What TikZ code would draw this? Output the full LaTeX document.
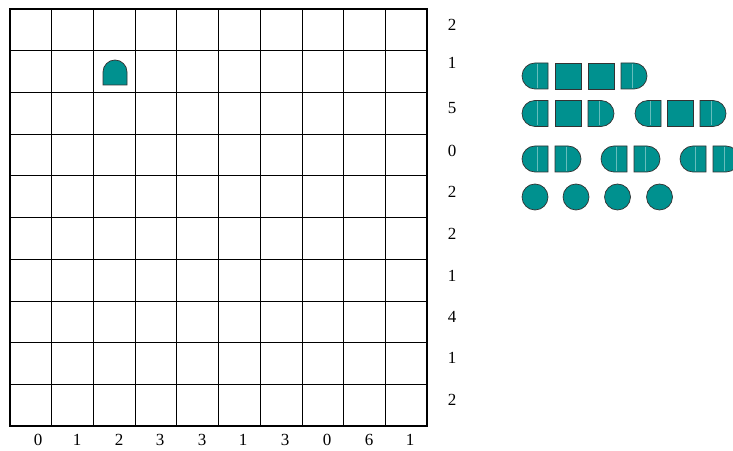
\documentclass[tikz,border=0pt]{standalone}
\usepackage{fontspec}
\setmainfont{Liberation Serif}
\usepackage{xcolor}
\usetikzlibrary{positioning}

\definecolor{hullteal}{RGB}{0,145,143}
\tikzset{
  hull/.style={fill=hullteal, draw=black!80, line width=0.6pt},
  glint/.style={draw=white!40!hullteal, line width=0.35pt},
  clue/.style={font=\fontsize{14.5}{17}\selectfont, inner sep=0pt},
  cellline/.style={draw=black, line width=0.6pt},
  frameline/.style={draw=black, line width=1.6pt}
}

% ship pieces: #1 = left edge, #2 = centre height
\newcommand\shipL[2]{%
  \draw[hull] (#1+13,#2+13) arc (90:270:13) -- (#1+26,#2-13) -- (#1+26,#2+13) -- cycle;
  \draw[glint] (#1+15,#2+12) -- (#1+15,#2-12);}
\newcommand\shipR[2]{%
  \draw[hull] (#1,#2+13) -- (#1+13,#2+13) arc (90:-90:13) -- (#1,#2-13) -- cycle;
  \draw[glint] (#1+11,#2+12) -- (#1+11,#2-12);}
\newcommand\shipM[2]{%
  \draw[hull] (#1,#2-13) rectangle (#1+26,#2+13);}
\newcommand\shipS[2]{%
  \draw[hull] (#1+13,#2) circle[radius=13];}

\begin{document}
\begin{tikzpicture}[x=0.03cm, y=0.03cm]

\useasboundingbox (0,0) rectangle (733,450);

\def\gx{10}
\def\gy{24}
\def\cs{41.7}

% grid
\foreach \i in {1,...,9}{
  \draw[cellline] ({\gx+\i*\cs},\gy) -- ({\gx+\i*\cs},{\gy+10*\cs});
  \draw[cellline] (\gx,{\gy+\i*\cs}) -- ({\gx+10*\cs},{\gy+\i*\cs});
}
\draw[frameline] (\gx,\gy) rectangle ({\gx+10*\cs},{\gy+10*\cs});

% column clues
\foreach \x/\v [count=\k] in {38/0, 77/1, 119/2, 160/3, 202/3,
                              243/1, 285/3, 327/0, 369/6, 410/1}{
  \node[clue] (col\k) at (\x,10) {\v};
}

% row clues
\foreach \y/\v [count=\k] in {425/2, 387/1, 342/5, 299/0, 258/2,
                              216/2, 174/1, 133/4, 92/1, 50/2}{
  \node[clue] (row\k) at (452,\y) {\v};
}

% given piece: top end of a ship
\draw[hull] (103,365) -- (103,378) arc (180:0:12) -- (127,365) -- cycle;

% battleship
\shipL{522}{374} \shipM{555}{374} \shipM{588}{374} \shipR{621}{374}

% cruisers
\shipL{522}{336.5} \shipM{555}{336.5} \shipR{588}{336.5}
\shipL{635}{336.5} \shipM{667}{336.5} \shipR{700}{336.5}

% destroyers
\shipL{522}{291} \shipR{555}{291}
\shipL{601}{291} \shipR{634}{291}
\shipL{680}{291} \shipR{713}{291}

% submarines
\foreach \x in {522, 563, 604.5, 646.5}{
  \shipS{\x}{253}
}

\end{tikzpicture}
\end{document}
